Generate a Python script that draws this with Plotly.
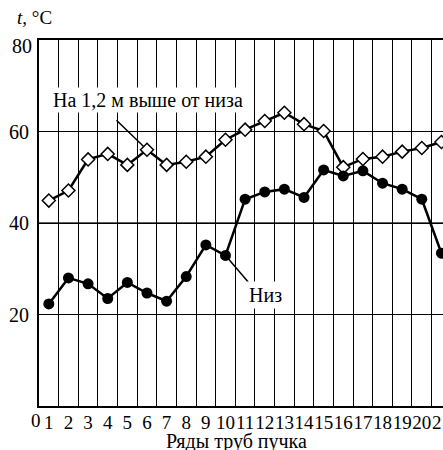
import plotly.graph_objects as go

rows = list(range(1, 22))
upper = [44.9, 47.1, 53.9, 55.1, 52.7, 56.0, 52.7, 53.4, 54.5, 58.2, 60.4,
         62.3, 64.1, 61.6, 60.1, 52.2, 54.0, 54.5, 55.6, 56.4, 57.7]
bottom = [22.3, 28.0, 26.7, 23.5, 27.0, 24.7, 22.9, 28.3, 35.2, 32.9, 45.2,
          46.8, 47.4, 45.6, 51.6, 50.3, 51.4, 48.7, 47.4, 45.2, 33.4]
xticks = list(range(1, 22))
yticks = [20, 40, 60]
upper_label = "На 1,2 м выше от низа"
bottom_label = "Низ"
x_title = "Ряды труб пучка"
y_title = "<i>t</i>, °C"

FONT = "Liberation Serif, Tinos, Times New Roman, Times, DejaVu Serif, serif"
FS = 20
X0, X1 = 0.5, 21.08
Y0, Y1 = 0, 80

fig = go.Figure()
fig.add_trace(go.Scatter(
    x=rows, y=upper, mode="lines+markers",
    line=dict(color="black", width=2.5),
    marker=dict(symbol="diamond", size=10, color="white",
                line=dict(color="black", width=1.5)),
    showlegend=False, cliponaxis=False, hoverinfo="skip"))
fig.add_trace(go.Scatter(
    x=rows, y=bottom, mode="lines+markers",
    line=dict(color="black", width=2.5),
    marker=dict(symbol="circle", size=11, color="black"),
    showlegend=False, cliponaxis=False, hoverinfo="skip"))

fig.add_shape(type="line", xref="paper", yref="y", x0=0, x1=1, y0=40, y1=40,
              line=dict(color="#606060", width=2.2), layer="below")

tf = dict(family=FONT, size=FS, color="black")
xtf = dict(family=FONT, size=19, color="black")
ann = []
ann.append(dict(x=6, y=upper[5], xref="x", yref="y", text="", showarrow=True,
                arrowhead=0, arrowwidth=1.5, arrowcolor="black",
                ax=-32, ay=-31, standoff=5))
ann.append(dict(x=10, y=bottom[9], xref="x", yref="y", text="", showarrow=True,
                arrowhead=0, arrowwidth=1.5, arrowcolor="black",
                ax=24, ay=28, standoff=5))
ann.append(dict(x=6.04, y=66.8, xref="x", yref="y", text=upper_label,
                showarrow=False, bgcolor="white", borderpad=1, font=tf))
ann.append(dict(x=12.03, y=24.3, xref="x", yref="y", text=bottom_label,
                showarrow=False, bgcolor="white", borderpad=2, font=tf))
ann.append(dict(x=(0 - X0) / (X1 - X0), y=0, xref="paper", yref="paper",
                text="0", showarrow=False, yanchor="top", yshift=-2, font=xtf))
ann.append(dict(x=0, y=1, xref="paper", yref="paper", text="80",
                showarrow=False, xanchor="right", yanchor="middle",
                xshift=-5, yshift=-6, font=tf))
ann.append(dict(x=0.49, y=0, xref="paper", yref="paper", text=x_title,
                showarrow=False, yanchor="top", yshift=-22, font=tf))
ann.append(dict(x=-0.01, y=1, xref="paper", yref="paper", text=y_title,
                showarrow=False, xanchor="center", yanchor="bottom",
                yshift=10, font=dict(family=FONT, size=19, color="black")))

fig.update_layout(
    width=443, height=450,
    margin=dict(l=39, r=0, t=40, b=44),
    paper_bgcolor="white", plot_bgcolor="white",
    font=tf,
    annotations=ann,
    hovermode=False,
    xaxis=dict(range=[X0, X1], tickvals=xticks, ticks="", showgrid=False,
               showline=True, linecolor="black", linewidth=2, mirror=True,
               zeroline=False, ticklabeloverflow="allow", tickangle=0,
               automargin=False, ticklabelstandoff=-2,
               minor=dict(tick0=0.5, dtick=1, showgrid=True,
                          gridcolor="black", gridwidth=1.2, ticks=""),
               tickfont=xtf),
    yaxis=dict(range=[Y0, Y1], tickvals=yticks, ticks="outside", ticklen=4,
               tickcolor="white", showgrid=True, gridcolor="black",
               gridwidth=1.2, showline=True, linecolor="black", linewidth=2,
               zeroline=False, automargin=False, tickfont=tf),
)

fig.write_html("out.html", config={"displayModeBar": False},
               post_script="document.body.style.margin='0';"
                           "document.body.style.padding='0';")
